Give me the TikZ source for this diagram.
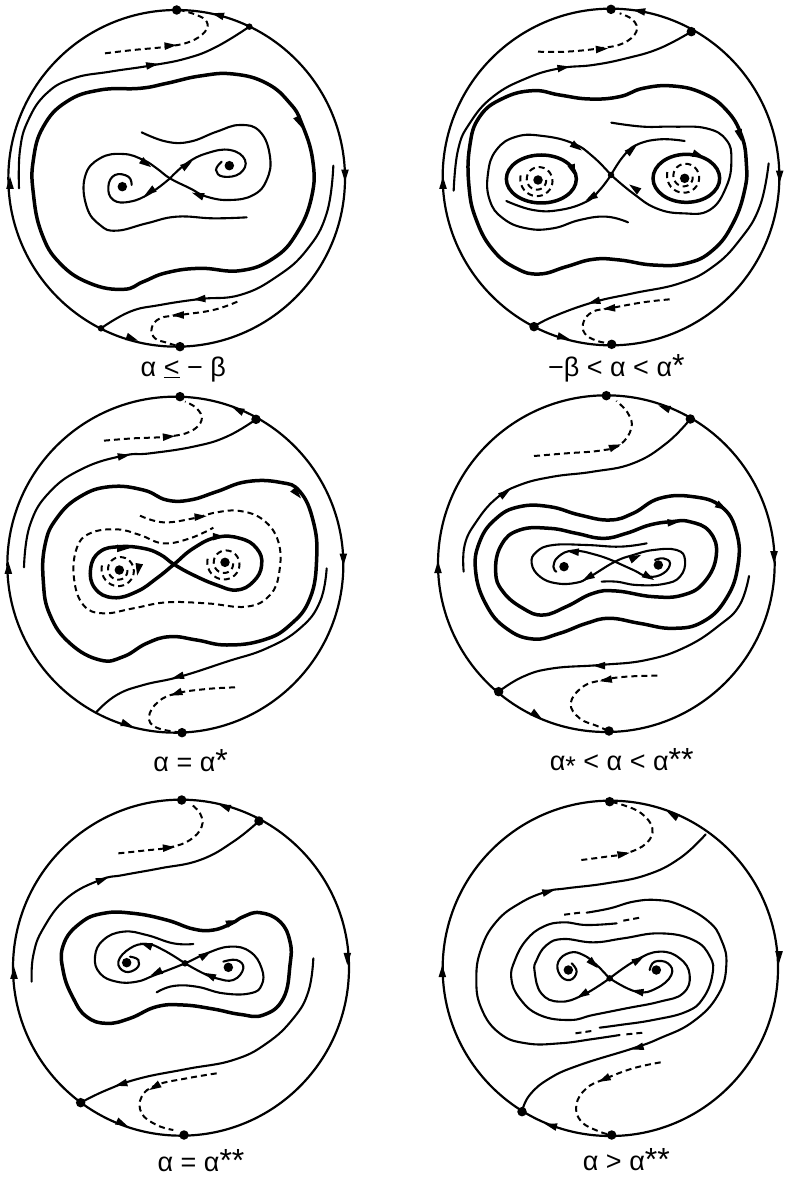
\documentclass[tikz,border=0pt]{standalone}
\usepackage{fontspec}
\setmainfont{Liberation Sans}
\newcommand{\flowtip}[3]{\fill (#1,#2) +(#3:20) -- +(#3+145:20) -- +(#3-145:20) -- cycle;}
\newcommand{\dashspiral}[2]{\draw[dashed orbit,smooth] plot[domain=0:560,samples=50] ({#1+(24+0.054*\x)*cos(\x)},{#2+(24+0.054*\x)*sin(\x)});}
\tikzset{
  disc/.style={line width=2.2pt},
  orbit/.style={line width=2.1pt,smooth,tension=0.75,line cap=round},
  heavy orbit/.style={line width=3.5pt,smooth cycle,tension=0.75},
  dashed orbit/.style={line width=2pt,smooth,tension=0.7,dash pattern=on 6pt off 4pt},
  eqdot/.style={circle,fill=black,inner sep=0pt,minimum size=9.5pt},
  saddle/.style={circle,fill=black,inner sep=0pt,minimum size=6.5pt},
  caption/.style={font=\fontsize{27}{27}\selectfont,inner sep=0pt,anchor=base},
}
\newcommand{\st}{{\fontsize{32}{32}\selectfont *}}
\begin{document}
\begin{tikzpicture}[x=0.33333pt,y=-0.33333pt]
\useasboundingbox (0,0) rectangle (2358,3531);
% alpha <= -beta
\begin{scope}
  \draw[disc] (530,535) circle [radius=505];
  \node[eqdot] (top1) at (530,30) {};
  \node[saddle] (right1) at (748,80) {};
  \node[eqdot] (bot1) at (540,1040) {};
  \node[saddle] (left1) at (303,985) {};
  \node[eqdot] (foca1) at (367,560) {};
  \node[eqdot] (focb1) at (688,497) {};
  \draw[orbit] plot coordinates {(748,80) (650,140) (560,175) (450,197) (330,215) (220,235) (140,280) (85,360) (60,450) (57,565)};
  \draw[orbit] plot coordinates {(303,985) (390,935) (480,915) (600,897) (720,885) (830,830) (920,750) (980,640) (1000,497)};
  \draw[heavy orbit] plot coordinates {(905,370) (870,310) (800,250) (700,222) (600,228) (500,250) (420,265) (300,270) (200,305) (130,380) (100,480) (100,580) (125,700) (180,790) (270,850) (370,868) (430,845) (500,818) (600,805) (720,812) (820,775) (890,700) (935,590) (938,480)};
  \draw[orbit] plot coordinates {(425,397) (500,425) (570,425) (650,395) (720,375) (780,395) (810,470) (800,540) (760,585) (690,600) (620,590) (570,565) (510,535) (470,505) (430,480) (370,462) (300,475) (255,530) (260,620) (300,675) (350,692) (440,670) (530,650) (640,655) (740,652)};
  \draw[orbit] plot coordinates {(510,535) (560,490) (620,460) (690,450) (735,480) (720,520) (670,530) (648,510) (665,485)};
  \draw[orbit] plot coordinates {(510,535) (450,580) (390,605) (340,600) (325,560) (345,525) (385,530) (395,555)};
  \draw[dashed orbit] plot coordinates {(315,160) (400,150) (500,140) (570,125) (615,95) (620,65) (590,45) (540,30)};
  \draw[dashed orbit] plot coordinates {(712,905) (640,930) (540,945) (480,955) (455,985) (465,1015) (500,1028) (540,1040)};
  \flowtip{30}{550}{270} \flowtip{1035}{525}{90} \flowtip{655}{45}{195} \flowtip{897}{365}{65}
  \flowtip{455}{195}{-10} \flowtip{600}{897}{175} \flowtip{395}{1015}{20} \flowtip{510}{137}{-5}
  \flowtip{535}{945}{180} \flowtip{437}{490}{35} \flowtip{560}{495}{-35} \flowtip{450}{575}{145} \flowtip{595}{585}{200}
  \node[caption] (cap1) at (550,1128) {α \underline{<} − β};
\end{scope}
% -beta < alpha < alpha*
\begin{scope}[shift={(1179,0)}]
  \draw[disc] (654,531) circle [radius=505];
  \node[eqdot] (top2) at (654,28) {};
  \node[eqdot] (right2) at (895,95) {};
  \node[eqdot] (bot2) at (656,1033) {};
  \node[eqdot] (left2) at (423,980) {};
  \node[saddle] (sad2) at (654,525) {};
  \node[eqdot] (foca2) at (435,540) {};
  \node[eqdot] (focb2) at (875,535) {};
  \draw[orbit] plot coordinates {(895,95) (800,145) (700,175) (600,195) (500,205) (400,235) (300,290) (230,370) (195,450) (182,572)};
  \draw[orbit] plot coordinates {(423,980) (480,950) (600,907) (720,880) (860,850) (960,800) (1040,720) (1100,620) (1127,490)};
  \draw[heavy orbit] plot coordinates {(1045,405) (1000,330) (930,280) (840,258) (750,265) (680,290) (590,297) (500,285) (420,272) (330,295) (260,350) (230,440) (228,560) (250,660) (300,750) (370,805) (440,822) (520,800) (600,778) (680,780) (780,795) (880,790) (960,750) (1020,670) (1055,570) (1060,490)};
  \draw[orbit] plot coordinates {(654,525) (690,470) (730,435) (800,418) (875,423)};
  \draw[orbit] plot coordinates {(654,525) (600,470) (540,430) (450,408) (370,410) (310,450) (285,520) (290,600) (330,655) (400,685) (480,685) (560,660) (640,650) (705,667)};
  \draw[orbit] plot coordinates {(654,525) (720,580) (790,625) (870,640) (950,630) (1000,560) (1015,480) (1000,420) (940,385) (840,380) (750,380) (655,368)};
  \draw[orbit] plot coordinates {(654,525) (620,570) (580,605) (500,630) (420,630) (340,603)};
  \draw[line width=3.5pt] (445,537) ellipse [x radius=105,y radius=72];
  \draw[line width=3.5pt] (880,535) ellipse [x radius=100,y radius=72];
  \dashspiral{435}{540}
  \dashspiral{875}{530}
  \draw[dashed orbit] plot coordinates {(435,155) (520,155) (620,145) (690,130) (730,95) (720,60) (680,40)};
  \draw[dashed orbit] plot coordinates {(830,898) (750,907) (650,925) (600,935) (572,965) (575,1000) (610,1022) (650,1030)};
  \flowtip{150}{550}{270} \flowtip{1160}{528}{90} \flowtip{740}{33}{190} \flowtip{1040}{405}{75}
  \flowtip{510}{203}{-10} \flowtip{605}{905}{165} \flowtip{510}{1012}{15} \flowtip{625}{147}{-5}
  \flowtip{650}{925}{175} \flowtip{550}{440}{35} \flowtip{715}{450}{-40} \flowtip{595}{592}{150}
  \flowtip{725}{565}{215} \flowtip{540}{510}{70} \flowtip{915}{465}{20}
  \node[caption] (cap2) at (670,1128) {−β < α < α\st};
\end{scope}
% alpha = alpha*
\begin{scope}[shift={(0,1155)}]
  \draw[disc] (526,539) circle [radius=504];
  \node[eqdot] (top3) at (540,35) {};
  \node[eqdot] (right3) at (768,103) {};
  \node[eqdot] (bot3) at (546,1043) {};
  \coordinate (left3) at (290,980);
  \node[eqdot] (foca3) at (358,555) {};
  \node[eqdot] (focb3) at (675,532) {};
  \draw[orbit] plot coordinates {(768,103) (680,155) (580,185) (450,205) (370,212) (250,250) (150,320) (90,420) (72,547)};
  \draw[orbit] plot coordinates {(290,980) (350,930) (430,900) (540,875) (680,830) (800,790) (900,730) (960,650) (980,550)};
  \draw[heavy orbit] plot coordinates {(900,320) (840,292) (740,290) (650,320) (570,345) (500,345) (430,315) (330,305) (240,335) (170,400) (135,480) (130,590) (150,690) (210,775) (300,825) (370,815) (440,775) (510,755) (590,765) (680,780) (790,765) (870,720) (930,640) (950,520) (940,410)};
  \draw[heavy orbit] plot coordinates {(522,538) (480,508) (430,490) (360,485) (300,500) (272,550) (285,610) (340,638) (410,620) (470,580) (522,538) (580,490) (650,457) (720,460) (770,490) (785,540) (760,590) (710,615) (650,600) (580,570)};
  \draw[dashed orbit] plot coordinates {(420,392) (490,412) (580,400) (650,382) (720,378) (790,405) (835,470) (838,560) (810,630) (740,665) (620,655) (500,652) (400,670) (310,685) (250,660) (222,580) (230,490) (270,445) (350,433) (420,450) (490,475) (570,460) (640,428)};
  \dashspiral{358}{555}
  \dashspiral{675}{535}
  \draw[dashed orbit] plot coordinates {(312,167) (400,160) (500,155) (570,140) (605,105) (590,70) (555,50)};
  \draw[dashed orbit] plot coordinates {(705,907) (620,912) (530,925) (475,950) (447,995) (470,1028) (546,1043)};
  \flowtip{25}{550}{270} \flowtip{1030}{522}{90} \flowtip{715}{75}{205} \flowtip{890}{325}{50}
  \flowtip{370}{213}{-10} \flowtip{535}{875}{165} \flowtip{380}{1018}{20} \flowtip{505}{155}{-5}
  \flowtip{530}{925}{160} \flowtip{368}{490}{0} \flowtip{655}{455}{0} \flowtip{415}{552}{100} \flowtip{600}{395}{-5}
  \node[caption] (cap3) at (572,1160) {α = α\st};
\end{scope}
% alpha* < alpha < alpha**
\begin{scope}[shift={(1179,1155)}]
  \draw[disc] (640,536) circle [radius=505];
  \node[eqdot] (top4) at (640,32) {};
  \node[eqdot] (right4) at (892,102) {};
  \node[eqdot] (bot4) at (648,1038) {};
  \node[eqdot] (left4) at (317,920) {};
  \node[eqdot] (foca4) at (513,545) {};
  \node[eqdot] (focb4) at (796,540) {};
  \draw[orbit] plot coordinates {(892,102) (820,175) (720,235) (600,260) (480,275) (380,300) (310,340) (250,410) (215,480) (212,560)};
  \draw[orbit] plot coordinates {(317,920) (390,875) (480,850) (620,840) (760,825) (880,785) (980,720) (1040,660) (1068,573)};
  \draw[heavy orbit] plot coordinates {(985,365) (900,335) (800,340) (720,385) (650,405) (560,390) (470,365) (380,365) (310,400) (260,470) (248,560) (280,660) (340,730) (420,762) (500,745) (580,715) (650,700) (740,715) (840,730) (930,710) (1000,640) (1035,540) (1030,440)};
  \draw[heavy orbit] plot coordinates {(835,410) (770,420) (700,445) (630,460) (550,445) (470,430) (380,435) (325,480) (308,560) (330,620) (390,670) (450,690) (520,665) (600,625) (670,618) (780,635) (870,630) (935,590) (970,510) (950,440) (890,410)};
  \draw[orbit] plot coordinates {(761,475) (681,485) (581,480) (481,480) (431,500) (416,535) (441,575) (491,595) (551,593) (591,575) (666,530) (721,510) (781,495) (851,495) (876,525) (861,575) (811,597) (731,600) (671,590) (626,590)};
  \draw[orbit] plot coordinates {(666,530) (611,510) (541,497) (496,515) (481,545) (490,560)};
  \draw[orbit] plot coordinates {(666,530) (721,555) (766,575) (811,565) (831,535) (811,520) (786,525)};
  \draw[dashed orbit] plot coordinates {(423,213) (520,205) (620,197) (680,180) (715,130) (705,85) (670,48)};
  \draw[dashed orbit] plot coordinates {(793,872) (700,875) (630,885) (570,905) (533,955) (560,1000) (610,1022) (648,1038)};
  \flowtip{135}{548}{270} \flowtip{1143}{515}{90} \flowtip{815}{68}{200} \flowtip{985}{365}{30}
  \flowtip{335}{325}{-35} \flowtip{620}{842}{180} \flowtip{430}{990}{35} \flowtip{665}{185}{-20}
  \flowtip{640}{885}{170} \flowtip{840}{412}{-5} \flowtip{541}{500}{185} \flowtip{586}{577}{150}
  \flowtip{726}{518}{-25} \flowtip{766}{575}{30}
  \node[caption] (cap4) at (686,1155) {α\raisebox{-0.2em}{*} < α < α\st\st};
\end{scope}
% alpha = alpha**
\begin{scope}[shift={(0,2355)}]
  \draw[disc] (543,548) circle [radius=504];
  \node[eqdot] (top5) at (545,45) {};
  \node[eqdot] (right5) at (777,108) {};
  \node[eqdot] (bot5) at (552,1050) {};
  \node[eqdot] (left5) at (242,953) {};
  \node[saddle] (sad5) at (555,535) {};
  \node[eqdot] (foca5) at (380,533) {};
  \node[eqdot] (focb5) at (685,547) {};
  \draw[orbit] plot coordinates {(777,108) (700,170) (600,225) (480,250) (370,270) (300,285) (200,340) (130,430) (100,510) (95,590)};
  \draw[orbit] plot coordinates {(242,953) (320,915) (420,880) (560,852) (700,825) (800,775) (880,700) (925,620) (940,520)};
  \draw[heavy orbit] plot coordinates {(695,415) (640,435) (580,432) (500,405) (400,385) (310,385) (240,415) (190,480) (190,560) (220,640) (260,695) (320,715) (390,700) (470,665) (550,660) (640,672) (720,688) (790,690) (850,640) (870,540) (870,470) (840,410) (780,383) (730,395)};
  \draw[orbit] plot coordinates {(580,477) (520,475) (440,450) (370,440) (310,465) (285,515) (300,565) (350,590) (410,590) (465,570) (555,535) (620,505) (690,485) (750,500) (785,550) (785,600) (750,625) (670,625) (590,605) (520,603) (470,622)};
  \draw[orbit] plot coordinates {(555,535) (490,495) (440,477) (390,490) (355,530) (375,560) (410,550) (415,525) (390,515)};
  \draw[orbit] plot coordinates {(555,535) (610,565) (650,580) (700,585) (730,550) (710,525) (670,530)};
  \draw[dashed orbit] plot coordinates {(355,205) (430,197) (510,187) (570,165) (605,125) (600,85) (570,55)};
  \draw[dashed orbit] plot coordinates {(650,865) (560,880) (470,900) (425,935) (425,985) (470,1020) (520,1035)};
  \flowtip{42}{565}{270} \flowtip{1042}{520}{90} \flowtip{675}{65}{200} \flowtip{305}{285}{-20}
  \flowtip{365}{897}{165} \flowtip{365}{1015}{25} \flowtip{505}{188}{-5} \flowtip{465}{905}{150}
  \flowtip{695}{412}{-20} \flowtip{440}{480}{200} \flowtip{470}{563}{155} \flowtip{615}{510}{-30} \flowtip{630}{572}{205}
  \node[caption] (cap5) at (603,1160) {α = α\st\st};
\end{scope}
% alpha > alpha**
\begin{scope}[shift={(1179,2355)}]
  \draw[disc] (652,550) circle [radius=503];
  \node[eqdot] (top6) at (650,50) {};
  \coordinate (right6) at (938,148);
  \node[eqdot] (bot6) at (656,1050) {};
  \node[eqdot] (left6) at (387,980) {};
  \node[saddle] (sad6) at (650,580) {};
  \node[eqdot] (foca6) at (526,555) {};
  \node[eqdot] (focb6) at (790,555) {};
  \draw[orbit] plot coordinates {(938,148) (860,220) (760,270) (640,295) (520,310) (460,320) (380,355) (310,410) (265,490) (250,580) (265,670) (320,745) (400,775) (500,775) (600,762) (680,750)};
  \draw[orbit] plot coordinates {(387,980) (410,930) (470,880) (560,840) (720,790) (800,760) (900,710) (975,630) (1000,540) (985,465) (945,408) (861,360) (791,345) (721,350) (651,370) (581,383)};
  \draw[orbit] plot coordinates {(671,415) (581,420) (511,412) (451,425) (400,465) (366,525) (355,580) (380,640) (440,690) (530,705) (600,690) (700,670) (800,650) (870,625) (890,570) (860,520) (800,500) (730,525) (650,580)};
  \draw[orbit] plot coordinates {(650,580) (570,630) (500,650) (445,625) (425,560) (431,525) (461,480) (511,462) (601,472) (691,460) (801,445) (901,465) (951,515) (958,570) (930,640) (880,680) (780,705) (680,720) (620,728)};
  \draw[orbit] plot coordinates {(649,580) (611,540) (571,510) (531,503) (496,530) (501,570) (531,585) (551,560) (536,535)};
  \draw[orbit] plot coordinates {(650,580) (730,620) (790,610) (835,570) (825,535) (785,530) (770,555)};
  \draw[dashed orbit] plot coordinates {(561,383) (506,390)};
  \draw[dashed orbit] plot coordinates {(691,407) (746,397)};
  \draw[dashed orbit] plot coordinates {(595,738) (540,746)};
  \draw[dashed orbit] plot coordinates {(700,748) (750,743)};
  \draw[dashed orbit] plot coordinates {(565,225) (640,215) (700,205) (760,175) (778,130) (745,85) (690,60) (650,50)};
  \draw[dashed orbit] plot coordinates {(803,832) (720,850) (635,882) (580,910) (550,960) (565,1010) (620,1040) (656,1050)};
  \flowtip{148}{560}{270} \flowtip{1158}{515}{90} \flowtip{840}{90}{210} \flowtip{465}{320}{-15}
  \flowtip{735}{788}{165} \flowtip{475}{1022}{195} \flowtip{690}{207}{-10} \flowtip{635}{882}{155}
  \flowtip{600}{535}{45} \flowtip{735}{525}{-30} \flowtip{570}{628}{150} \flowtip{735}{620}{190}
  \node[caption] (cap6) at (700,1155) {α > α\st\st};
\end{scope}
\end{tikzpicture}
\end{document}
